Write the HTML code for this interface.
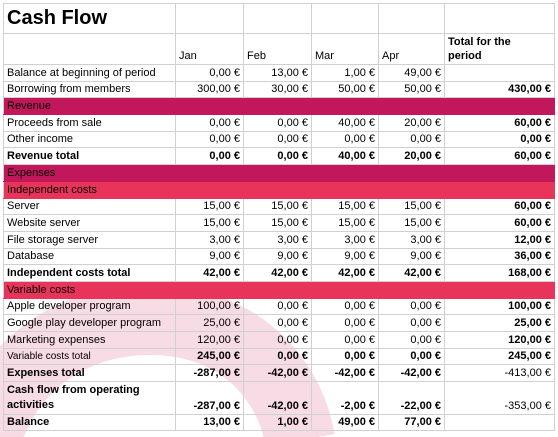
<!DOCTYPE html>
<html><head><meta charset="utf-8">
<style>
html,body{margin:0;padding:0;background:#fff;width:558px;height:437px;overflow:hidden;position:relative}
svg.wm{position:absolute;left:0;top:0;z-index:0}
table{position:absolute;left:3px;top:3px;border-collapse:collapse;table-layout:fixed;font-family:"Liberation Sans",Arial,sans-serif;font-size:11px;color:#000;z-index:1}
td{border:1px solid #d0d0d0;padding:0 3px 1px 3px;height:16.7px;line-height:13px;white-space:nowrap;overflow:hidden;vertical-align:bottom;box-sizing:border-box}
td.n{text-align:right}
tr.b td{font-weight:bold}
td.t{font-weight:bold}
tr.s1 td{background:#c2185b;border-color:#c2185b}
tr.s2 td{background:#e8345a;border-color:#e8345a}
tr.s1 td:first-child,tr.s2 td:first-child{border-left-color:#d0d0d0}
.title{font-size:20px;font-weight:bold;height:30px;vertical-align:middle;line-height:22px}
.hdr td{height:31px;vertical-align:bottom;padding-bottom:1px;line-height:13px}
.two td{height:32.5px}
.sm{font-size:10px}
</style></head><body>
<svg class="wm" width="558" height="437">
<path d="M-20,470 C-10,380 60,320 150,320 C240,320 290,380 300,440" fill="none" stroke="#f7dbe5" stroke-width="70"/>
</svg>
<table>
<colgroup><col style="width:172px"><col style="width:68px"><col style="width:68px"><col style="width:67px"><col style="width:66px"><col style="width:110px"></colgroup>
<tr><td class="title">Cash Flow</td><td></td><td></td><td></td><td></td><td></td></tr>
<tr class="hdr"><td></td><td>Jan</td><td>Feb</td><td>Mar</td><td>Apr</td><td style="line-height:14px;font-weight:bold">Total for the<br>period</td></tr>
<tr><td>Balance at beginning of period</td><td class="n">0,00 €</td><td class="n">13,00 €</td><td class="n">1,00 €</td><td class="n">49,00 €</td><td></td></tr>
<tr><td>Borrowing from members</td><td class="n">300,00 €</td><td class="n">30,00 €</td><td class="n">50,00 €</td><td class="n">50,00 €</td><td class="n t">430,00 €</td></tr>
<tr class="s1"><td>Revenue</td><td></td><td></td><td></td><td></td><td></td></tr>
<tr><td>Proceeds from sale</td><td class="n">0,00 €</td><td class="n">0,00 €</td><td class="n">40,00 €</td><td class="n">20,00 €</td><td class="n t">60,00 €</td></tr>
<tr><td>Other income</td><td class="n">0,00 €</td><td class="n">0,00 €</td><td class="n">0,00 €</td><td class="n">0,00 €</td><td class="n t">0,00 €</td></tr>
<tr class="b"><td>Revenue total</td><td class="n">0,00 €</td><td class="n">0,00 €</td><td class="n">40,00 €</td><td class="n">20,00 €</td><td class="n">60,00 €</td></tr>
<tr class="s1"><td>Expenses</td><td></td><td></td><td></td><td></td><td></td></tr>
<tr class="s2"><td>Independent costs</td><td></td><td></td><td></td><td></td><td></td></tr>
<tr><td>Server</td><td class="n">15,00 €</td><td class="n">15,00 €</td><td class="n">15,00 €</td><td class="n">15,00 €</td><td class="n t">60,00 €</td></tr>
<tr><td>Website server</td><td class="n">15,00 €</td><td class="n">15,00 €</td><td class="n">15,00 €</td><td class="n">15,00 €</td><td class="n t">60,00 €</td></tr>
<tr><td>File storage server</td><td class="n">3,00 €</td><td class="n">3,00 €</td><td class="n">3,00 €</td><td class="n">3,00 €</td><td class="n t">12,00 €</td></tr>
<tr><td>Database</td><td class="n">9,00 €</td><td class="n">9,00 €</td><td class="n">9,00 €</td><td class="n">9,00 €</td><td class="n t">36,00 €</td></tr>
<tr class="b"><td>Independent costs total</td><td class="n">42,00 €</td><td class="n">42,00 €</td><td class="n">42,00 €</td><td class="n">42,00 €</td><td class="n">168,00 €</td></tr>
<tr class="s2"><td>Variable costs</td><td></td><td></td><td></td><td></td><td></td></tr>
<tr><td>Apple developer program</td><td class="n">100,00 €</td><td class="n">0,00 €</td><td class="n">0,00 €</td><td class="n">0,00 €</td><td class="n t">100,00 €</td></tr>
<tr><td>Google play developer program</td><td class="n">25,00 €</td><td class="n">0,00 €</td><td class="n">0,00 €</td><td class="n">0,00 €</td><td class="n t">25,00 €</td></tr>
<tr><td>Marketing expenses</td><td class="n">120,00 €</td><td class="n">0,00 €</td><td class="n">0,00 €</td><td class="n">0,00 €</td><td class="n t">120,00 €</td></tr>
<tr class="b"><td class="sm" style="font-weight:normal">Variable costs total</td><td class="n">245,00 €</td><td class="n">0,00 €</td><td class="n">0,00 €</td><td class="n">0,00 €</td><td class="n">245,00 €</td></tr>
<tr class="b"><td>Expenses total</td><td class="n">-287,00 €</td><td class="n">-42,00 €</td><td class="n">-42,00 €</td><td class="n">-42,00 €</td><td class="n" style="font-weight:normal">-413,00 €</td></tr>
<tr class="b two"><td style="line-height:15px">Cash flow from operating<br>activities</td><td class="n">-287,00 €</td><td class="n">-42,00 €</td><td class="n">-2,00 €</td><td class="n">-22,00 €</td><td class="n" style="font-weight:normal">-353,00 €</td></tr>
<tr class="b"><td>Balance</td><td class="n">13,00 €</td><td class="n">1,00 €</td><td class="n">49,00 €</td><td class="n">77,00 €</td><td></td></tr>
</table>
</body></html>
